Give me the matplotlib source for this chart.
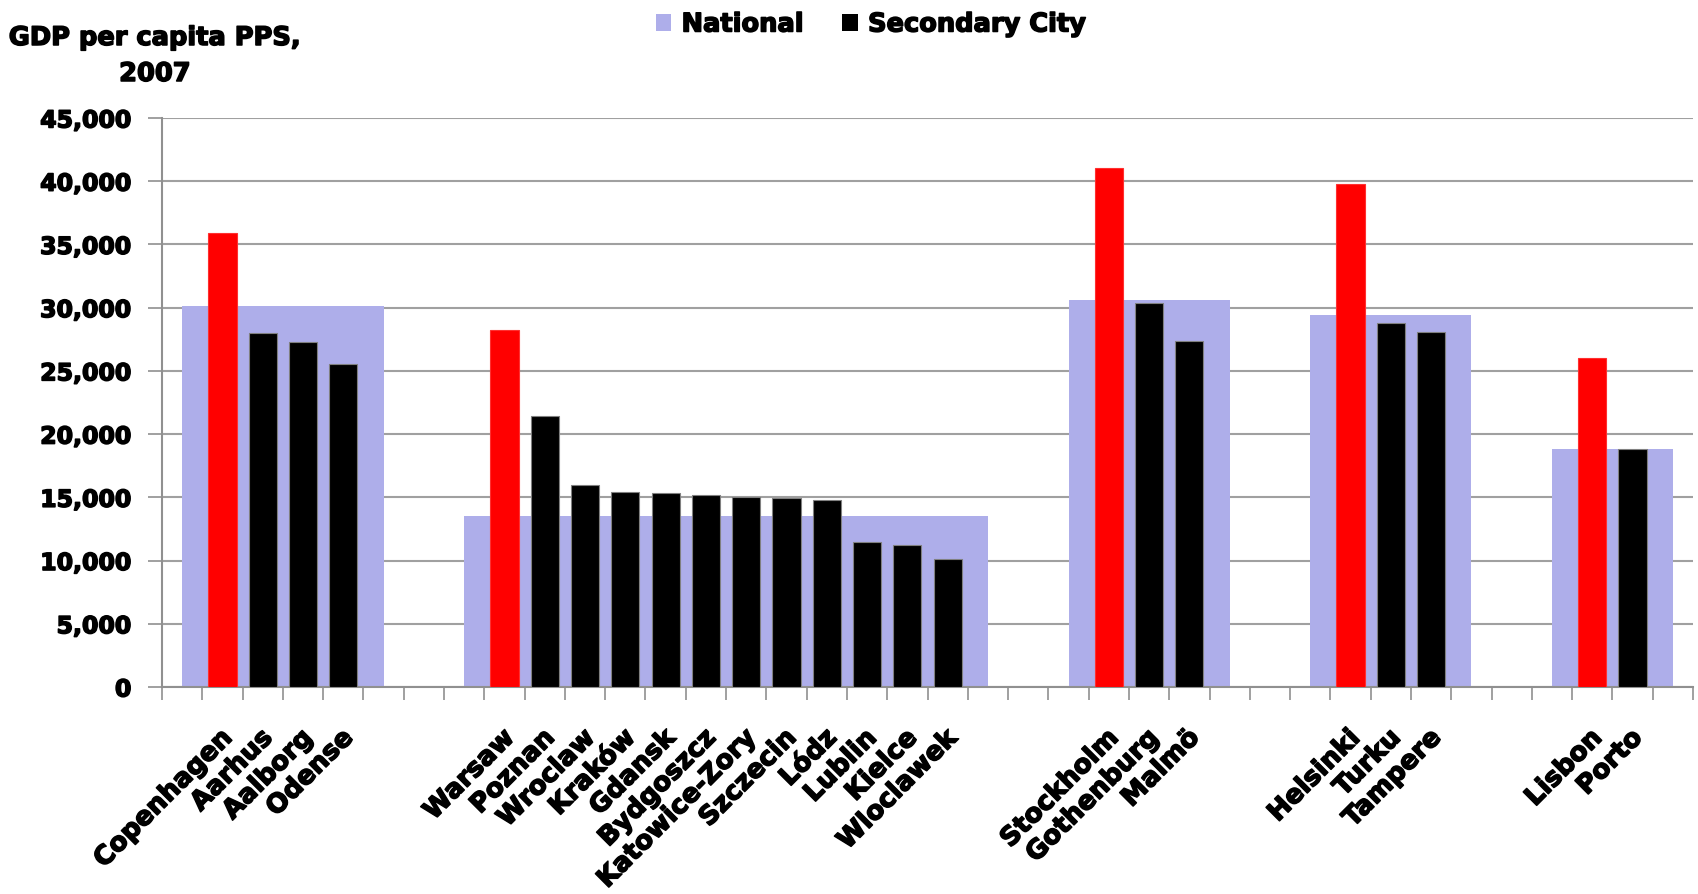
import matplotlib.pyplot as plt
import matplotlib.patheffects as pe
import matplotlib.transforms as mtransforms
from matplotlib.patches import Patch
import numpy as np

# GDP per capita (PPS, 2007): capital first, then secondary cities
countries = ["Denmark", "Poland", "Sweden", "Finland", "Portugal"]
cities = [
    ["Copenhagen", "Aarhus", "Aalborg", "Odense"],
    ["Warsaw", "Poznan", "Wroclaw", "Kraków", "Gdansk", "Bydgoszcz",
     "Katowice-Zory", "Szczecin", "Lódz", "Lublin", "Kielce", "Wloclawek"],
    ["Stockholm", "Gothenburg", "Malmö"],
    ["Helsinki", "Turku", "Tampere"],
    ["Lisbon", "Porto"],
]
city_gdp = [
    [35900, 28000, 27300, 25550],
    [28200, 21400, 15950, 15450, 15350, 15150, 15050, 14950, 14750, 11450, 11250, 10100],
    [41050, 30400, 27350],
    [39750, 28800, 28050],
    [26050, 18850],
]
national_gdp = [30100, 13550, 30600, 29400, 18850]

GAP = 3
LAVENDER = "#AEAEEA"
# heavier strokes for a black-weight look
heavy = [pe.withStroke(linewidth=1.1, foreground="black")]

plt.rcParams['font.family'] = ['DejaVu Sans']

fig = plt.figure(figsize=(16.98, 8.94), dpi=100)
ax = fig.add_axes([162 / 1698, 1 - 687 / 894, (1693 - 162) / 1698, (687 - 118) / 894])

pos = 1
labels, label_x = [], []
for names, vals, nat in zip(cities, city_gdp, national_gdp):
    xs = np.arange(pos, pos + len(names))
    # national level as a wide band behind the city bars
    ax.bar(xs.mean(), nat, width=len(names) + 1, color=LAVENDER, zorder=2)
    colors = ["#FF0000"] + ["#000000"] * (len(names) - 1)
    edges = ["#FF3030"] + ["#808080"] * (len(names) - 1)
    ax.bar(xs, vals, width=0.7, color=colors, edgecolor=edges, linewidth=0.8, zorder=3)
    labels += names
    label_x += list(xs)
    pos += len(names) + GAP

n_slots = pos - GAP + 1
ax.set_xlim(-0.5, n_slots - 0.5)
ax.set_ylim(0, 45000)

ax.set_yticks(np.arange(0, 45001, 5000))
ax.set_yticklabels([f"{v:,}" for v in range(0, 45001, 5000)], fontsize=17, fontweight="bold")
ax.yaxis.grid(True, color="#A0A0A0", linewidth=1.5, zorder=0)
ax.set_axisbelow(True)

ax.set_xticks(np.arange(-0.5, n_slots, 1.0))
ax.set_xticklabels([])
ax.set_xticks(label_x, minor=True)
ax.set_xticklabels(labels, minor=True, fontsize=18.8, fontweight="bold")
ax.tick_params(axis="x", which="minor", length=0, pad=27)
plt.setp(ax.get_xticklabels(minor=True), rotation=45, ha="right", va="top",
         rotation_mode="anchor")
ax.tick_params(axis="x", which="major", length=9, color="#909090", width=1.2)
ax.tick_params(axis="y", length=10, color="#909090", width=1.2, pad=12)

# nudge the rotated city names slightly left
shift = mtransforms.ScaledTranslation(-3 / 100, 0, fig.dpi_scale_trans)
for t in ax.get_xticklabels(minor=True):
    t.set_transform(t.get_transform() + shift)

for t in ax.get_xticklabels(minor=True) + ax.get_yticklabels():
    t.set_path_effects(heavy)

for side in ("top", "right"):
    ax.spines[side].set_visible(False)
for side in ("left", "bottom"):
    ax.spines[side].set_color("#909090")
    ax.spines[side].set_linewidth(1.5)

fig.text(155 / 1698, 1 - 56 / 894, "GDP per capita PPS,\n2007", ha="center", va="center",
         fontsize=18.5, fontweight="bold", linespacing=1.5, path_effects=heavy)

handles = [Patch(facecolor=LAVENDER, label="National"),
           Patch(facecolor="#000000", label="Secondary City")]
leg = fig.legend(handles=handles, loc="upper center", bbox_to_anchor=(0.513, 1.013), ncol=2,
                 frameon=False, prop={"size": 18.5, "weight": "bold"}, handlelength=0.6,
                 handleheight=0.6, handletextpad=0.4, columnspacing=1.5)
for t in leg.get_texts():
    t.set_path_effects(heavy)

fig.savefig("out.png", dpi=100)
